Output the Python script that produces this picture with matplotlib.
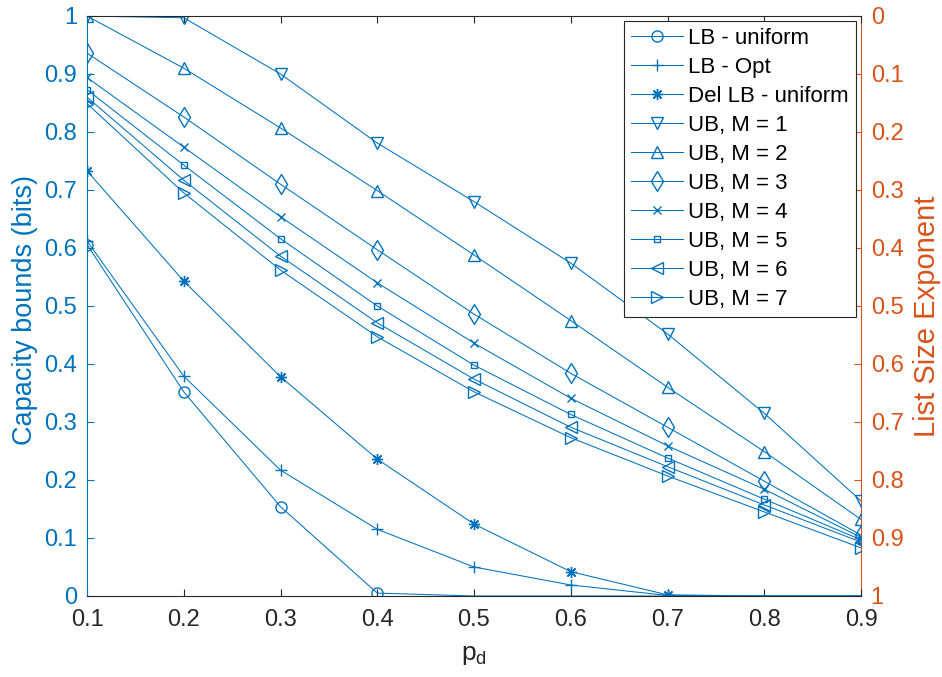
import numpy as np
import matplotlib
matplotlib.use("Agg")
import matplotlib.pyplot as plt
from matplotlib.ticker import FormatStrFormatter, FuncFormatter

plt.rcParams['font.family'] = ['Liberation Sans', 'DejaVu Sans']
plt.rcParams['mathtext.fontset'] = 'custom'
plt.rcParams['mathtext.rm'] = 'Liberation Sans'

BLUE = '#0072BD'
ORANGE = '#D95319'
GREY = '#262626'

pd_vals = [0.1, 0.2, 0.3, 0.4, 0.5, 0.6, 0.7, 0.8, 0.9]

lb_uniform = [0.606, 0.352, 0.154, 0.005, 0.0, 0.0, 0.0, 0.0, 0.0]
lb_opt = [0.612, 0.379, 0.217, 0.115, 0.050, 0.019, 0.001, 0.0, 0.0]
del_lb_uniform = [0.733, 0.543, 0.378, 0.236, 0.124, 0.042, 0.002, 0.0, 0.0]
ub_m1 = [1.0, 0.997, 0.900, 0.781, 0.680, 0.574, 0.452, 0.315, 0.164]
ub_m2 = [1.0, 0.910, 0.807, 0.699, 0.588, 0.475, 0.360, 0.249, 0.132]
ub_m3 = [0.936, 0.826, 0.710, 0.597, 0.486, 0.384, 0.291, 0.198, 0.105]
ub_m4 = [0.894, 0.774, 0.654, 0.540, 0.436, 0.341, 0.259, 0.184, 0.101]
ub_m5 = [0.873, 0.743, 0.616, 0.500, 0.398, 0.313, 0.238, 0.167, 0.097]
ub_m6 = [0.860, 0.717, 0.586, 0.471, 0.374, 0.291, 0.223, 0.157, 0.093]
ub_m7 = [0.849, 0.695, 0.562, 0.447, 0.352, 0.273, 0.207, 0.145, 0.083]

series = [
    ("LB - uniform", lb_uniform, 'o', 8),
    ("LB - Opt", lb_opt, '+', 8),
    ("Del LB - uniform", del_lb_uniform, (8, 2, 0), 8),
    ("UB, M = 1", ub_m1, 'v', 8.5),
    ("UB, M = 2", ub_m2, '^', 8.5),
    ("UB, M = 3", ub_m3, 'd', 10),
    ("UB, M = 4", ub_m4, 'x', 5.5),
    ("UB, M = 5", ub_m5, 's', 5),
    ("UB, M = 6", ub_m6, '<', 8.5),
    ("UB, M = 7", ub_m7, '>', 8.5),
]

fig = plt.figure(figsize=(9.42, 6.77), dpi=100)
ax = fig.add_axes([87 / 942, 81 / 677, 774 / 942, 580 / 677])

for label, vals, mk, ms in series:
    # markers only where the bound is still above zero
    shown = [i for i, v in enumerate(vals) if v > 0]
    ax.plot(pd_vals, vals, color=BLUE, lw=0.75, marker=mk, ms=ms,
            markevery=shown, markerfacecolor='none', markeredgecolor=BLUE,
            markeredgewidth=1.0, label=label)

ax.set_xlim(0.1, 0.9)
ax.set_ylim(0, 1)
ax.set_xticks(np.arange(0.1, 0.91, 0.1))
ax.set_yticks(np.arange(0, 1.01, 0.1))
fmt = FuncFormatter(lambda v, p: f"{int(round(v))}" if abs(v - round(v)) < 1e-9 else f"{v:.1f}")
ax.xaxis.set_major_formatter(FormatStrFormatter('%.1f'))
ax.yaxis.set_major_formatter(fmt)

ax.tick_params(axis='x', direction='in', top=True, length=5, width=0.8,
               colors=GREY, labelsize=17, pad=9)
ax.tick_params(axis='y', direction='in', length=5, width=0.8,
               colors=BLUE, labelsize=17, labelcolor=BLUE, pad=7)
for side in ('top', 'bottom'):
    ax.spines[side].set_color(GREY)
    ax.spines[side].set_linewidth(0.8)
ax.spines['left'].set_color(BLUE)
ax.spines['left'].set_linewidth(0.8)
ax.spines['right'].set_visible(False)

ax2 = ax.twinx()
ax2.set_ylim(1, 0)
ax2.set_yticks(np.arange(0, 1.01, 0.1))
ax2.yaxis.set_major_formatter(fmt)
ax2.tick_params(axis='y', direction='in', length=5, width=0.8,
                colors=ORANGE, labelsize=17, labelcolor=ORANGE, pad=7)
ax2.spines['right'].set_color(ORANGE)
ax2.spines['right'].set_linewidth(0.8)
for side in ('top', 'bottom', 'left'):
    ax2.spines[side].set_visible(False)

fig.text(25 / 942, 1 - 310 / 677, "Capacity bounds (bits)", rotation=90,
         ha='center', va='center', fontsize=19.5, color=BLUE)
fig.text(927 / 942, 1 - 316 / 677, "List Size Exponent", rotation=90,
         ha='center', va='center', fontsize=21, color=ORANGE)
fig.text(474 / 942, 1 - 655 / 677, r"p$_\mathrm{d}$", ha='center', va='center',
         fontsize=19, color=GREY)

leg = ax.legend(loc='upper right', fontsize=16, frameon=True, fancybox=False,
                framealpha=1, edgecolor=GREY, handlelength=2.34,
                borderaxespad=0.23, labelspacing=0.36, handletextpad=0.23,
                borderpad=0.32)
leg.get_frame().set_linewidth(0.8)
ax.set_zorder(ax2.get_zorder() + 1)
ax.patch.set_visible(False)

fig.savefig("out.png", dpi=100)
